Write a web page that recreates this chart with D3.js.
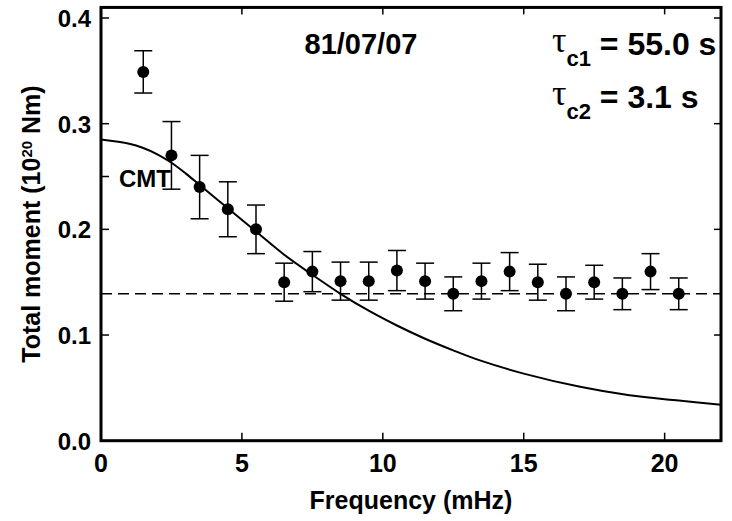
<!DOCTYPE html>
<html lang="en">
<head>
    <meta charset="UTF-8">
    <title>Total moment vs frequency</title>
    <script src="https://d3js.org/d3.v7.min.js"></script>
    <style>
        body { margin: 0; background: #fff; }
        text { font-family: "Liberation Sans", Arial, sans-serif; font-weight: bold; fill: #000; }
    </style>
</head>
<body>
    <svg width="732" height="521"></svg>
    <script>
        // measured moments per frequency band
        const freq = [1.5, 2.5, 3.5, 4.5, 5.5, 6.5, 7.5, 8.5, 9.5, 10.5,
                      11.5, 12.5, 13.5, 14.5, 15.5, 16.5, 17.5, 18.5, 19.5, 20.5];
        const moment = [0.349, 0.270, 0.240, 0.219, 0.200, 0.150, 0.160, 0.151, 0.151, 0.161,
                        0.151, 0.139, 0.151, 0.160, 0.150, 0.139, 0.150, 0.139, 0.160, 0.139];
        const momentErr = [0.020, 0.032, 0.030, 0.026, 0.023, 0.018, 0.019, 0.018, 0.018, 0.019,
                           0.017, 0.016, 0.017, 0.018, 0.017, 0.016, 0.016, 0.015, 0.017, 0.015];

        // CMT curve
        const cmtFreq = [0, 1, 1.5, 2, 2.5, 3, 3.5, 4.5, 5.5, 6.5, 7.5, 8.5, 9.5, 10.5,
                         11.5, 12.5, 13.5, 15, 17, 18.75, 20.5, 22];
        const cmtMoment = [0.285, 0.281, 0.277, 0.271, 0.263, 0.253, 0.242, 0.220, 0.198, 0.176,
                           0.157, 0.139, 0.123, 0.109, 0.0965, 0.0855, 0.0755, 0.0635, 0.051, 0.043,
                           0.038, 0.034];

        const flatLevel = 0.139;

        const xTicks = [0, 5, 10, 15, 20];
        const yTicks = [0, 0.1, 0.2, 0.3, 0.4];
        const yTickLabels = ["0.0", "0.1", "0.2", "0.3", "0.4"];

        const svg = d3.select("svg");

        const x = d3.scaleLinear().domain([0, 22]).range([101, 721]);
        const y = d3.scaleLinear().domain([0, 0.4]).range([440.7, 18]);
        const yTop = 0.41;

        const xL = x(0), xR = x(22), yB = y(0), yT = y(yTop);

        // ticks, inward on all four sides
        const tickG = svg.append("g").attr("stroke", "#000").attr("stroke-width", 1.5);
        xTicks.forEach(t => {
            tickG.append("line").attr("x1", x(t)).attr("x2", x(t)).attr("y1", yB).attr("y2", yB - 8);
            tickG.append("line").attr("x1", x(t)).attr("x2", x(t)).attr("y1", yT).attr("y2", yT + 7);
        });
        yTicks.concat([0.25]).forEach(t => {
            tickG.append("line").attr("x1", xL).attr("x2", xL + 8).attr("y1", y(t)).attr("y2", y(t));
        });
        yTicks.forEach(t => {
            tickG.append("line").attr("x1", xR).attr("x2", xR - 7).attr("y1", y(t)).attr("y2", y(t));
        });

        // tick labels
        svg.append("g").selectAll("text")
            .data(xTicks)
            .join("text")
            .attr("x", d => x(d))
            .attr("y", 472)
            .attr("text-anchor", "middle")
            .attr("font-size", 25)
            .text(d => d);

        svg.append("g").selectAll("text")
            .data(yTicks)
            .join("text")
            .attr("x", 91)
            .attr("y", d => y(d) + 9)
            .attr("text-anchor", "end")
            .attr("font-size", 24)
            .text((d, i) => yTickLabels[i]);

        // dashed level
        svg.append("line")
            .attr("x1", x(0)).attr("x2", x(22))
            .attr("y1", y(flatLevel)).attr("y2", y(flatLevel))
            .attr("stroke", "#000")
            .attr("stroke-width", 1.6)
            .attr("stroke-dasharray", "11,6");

        // CMT curve
        const line = d3.line()
            .x((d, i) => x(cmtFreq[i]))
            .y(d => y(d))
            .curve(d3.curveCatmullRom.alpha(0.5));

        svg.append("path")
            .datum(cmtMoment)
            .attr("d", line)
            .attr("fill", "none")
            .attr("stroke", "#000")
            .attr("stroke-width", 2);

        // error bars + points
        const pts = svg.append("g").selectAll("g")
            .data(freq.map((f, i) => ({ f, m: moment[i], e: momentErr[i] })))
            .join("g")
            .attr("stroke", "#000")
            .attr("stroke-width", 1.5);

        pts.append("line")
            .attr("x1", d => x(d.f)).attr("x2", d => x(d.f))
            .attr("y1", d => y(d.m + d.e)).attr("y2", d => y(d.m - d.e));
        pts.append("line")
            .attr("x1", d => x(d.f) - 9).attr("x2", d => x(d.f) + 9)
            .attr("y1", d => y(d.m + d.e)).attr("y2", d => y(d.m + d.e));
        pts.append("line")
            .attr("x1", d => x(d.f) - 9).attr("x2", d => x(d.f) + 9)
            .attr("y1", d => y(d.m - d.e)).attr("y2", d => y(d.m - d.e));
        pts.append("circle")
            .attr("cx", d => x(d.f))
            .attr("cy", d => y(d.m))
            .attr("r", 6)
            .attr("fill", "#000")
            .attr("stroke", "none");

        // frame
        svg.append("rect")
            .attr("x", xL).attr("y", yT)
            .attr("width", xR - xL).attr("height", yB - yT)
            .attr("fill", "none")
            .attr("stroke", "#000")
            .attr("stroke-width", 3);

        // axis titles
        svg.append("text")
            .attr("x", 411)
            .attr("y", 509)
            .attr("text-anchor", "middle")
            .attr("font-size", 25)
            .text("Frequency (mHz)");

        const yTitle = svg.append("text")
            .attr("transform", "translate(40,224) rotate(-90)")
            .attr("text-anchor", "middle")
            .attr("font-size", 25);
        yTitle.append("tspan").text("Total moment (10");
        yTitle.append("tspan").attr("font-size", 15).attr("dy", -8).text("20");
        yTitle.append("tspan").attr("dy", 8).text(" Nm)");

        // annotations
        svg.append("text")
            .attr("x", 361).attr("y", 54)
            .attr("text-anchor", "middle")
            .attr("font-size", 29)
            .text("81/07/07");

        svg.append("text")
            .attr("x", 119).attr("y", 187)
            .attr("font-size", 24)
            .text("CMT");

        const tau = [["c1", "55.0 s", 55], ["c2", "3.1 s", 108]];
        tau.forEach(([sub, val, base]) => {
            const t = svg.append("text").attr("x", 552).attr("y", base).attr("font-size", 32);
            t.append("tspan")
                .attr("font-family", "Liberation Serif, DejaVu Serif, serif")
                .attr("font-weight", "normal")
                .attr("font-size", 36)
                .attr("dy", -3)
                .text("τ");
            t.append("tspan").attr("font-size", 22).attr("dy", 14).text(sub);
            t.append("tspan").attr("dy", -11).text(" = " + val);
        });
    </script>
</body>
</html>
